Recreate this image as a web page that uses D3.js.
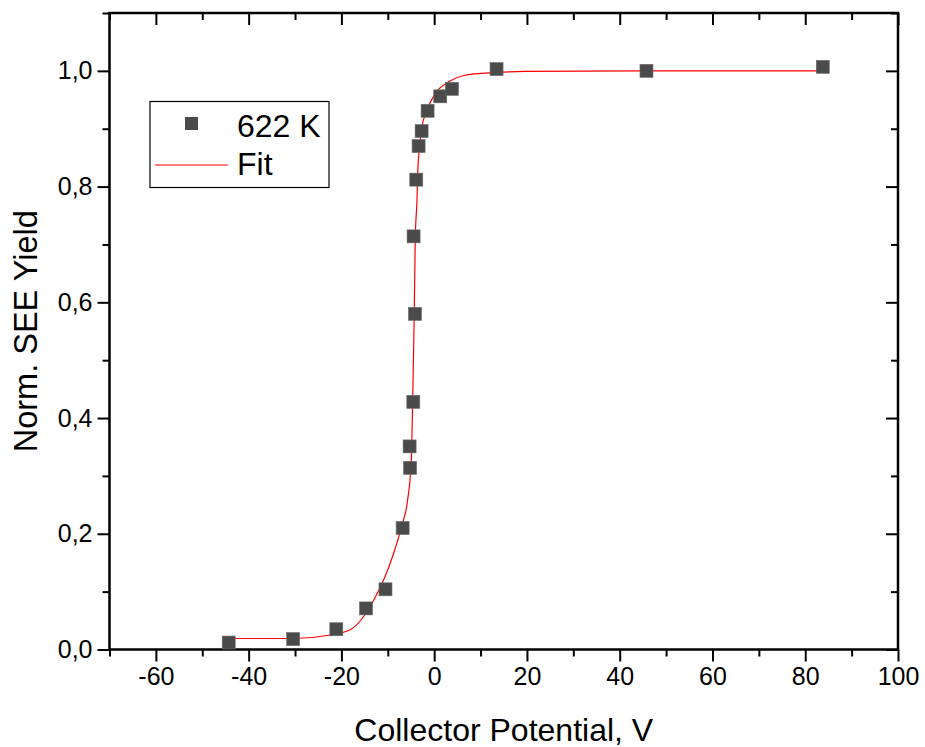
<!DOCTYPE html>
<html>
<head>
<meta charset="utf-8">
<script src="https://cdn.jsdelivr.net/npm/d3@7"></script>
<style>
  body { margin: 0; background: #fff; }
  text { font-family: "Liberation Sans", Arial, sans-serif; fill: #000; }
</style>
</head>
<body>
<div id="chart"></div>
<script>
// measured points (622 K)
const potential = [-44.3, -30.4, -21.1, -14.7, -10.5, -6.8, -5.2, -5.3, -4.5, -4.14,
                   -4.44, -3.86, -3.36, -2.71, -1.42, 1.31, 3.84, 13.45, 45.77, 83.78];
const yieldNorm = [0.012, 0.018, 0.035, 0.071, 0.104, 0.210, 0.314, 0.351, 0.428, 0.580,
                   0.714, 0.812, 0.870, 0.896, 0.931, 0.956, 0.969, 1.003, 1.000, 1.007];

// fit curve
const fitX = [-44.3, -30.4, -22.4, -18.1, -15.2, -13.06, -10.9, -8.75, -6.94, -5.73, -4.93,
              -4.65, -4.29, -4.07, -3.71, -3.53, -3.36, -2.63, -1.55, 0.24, 3.1, 6.4, 13.2, 19.6, 45, 83.78];
const fitY = [0.019, 0.019, 0.025, 0.034, 0.057, 0.085, 0.120, 0.166, 0.215, 0.258, 0.327,
              0.425, 0.581, 0.713, 0.776, 0.828, 0.851, 0.903, 0.932, 0.961, 0.981, 0.992, 0.997, 0.999, 1.0, 1.0];

const xTicks = [-60, -40, -20, 0, 20, 40, 60, 80, 100];
const xMinor = [-70, -50, -30, -10, 10, 30, 50, 70, 90];
const yTicks = [0, 0.2, 0.4, 0.6, 0.8, 1.0];
const yMinor = [0.1, 0.3, 0.5, 0.7, 0.9, 1.1];

const W = 925, H = 747;
const margin = {top: 13, right: 27, bottom: 97.5, left: 109.5};
const width = W - margin.left - margin.right;
const height = H - margin.top - margin.bottom;

const svg = d3.select("#chart").append("svg")
    .attr("width", W)
    .attr("height", H);

const g = svg.append("g")
    .attr("transform", `translate(${margin.left},${margin.top})`);

const x = d3.scaleLinear().domain([-70, 100]).range([0, width]);
const y = d3.scaleLinear().domain([0, 1.1]).range([height, 0]);

// plain hyphen for negatives, comma as decimal mark
const fmtX = d => String(d);
const fmtY = d => d.toFixed(1).replace(".", ",");

function styleAxis(sel) {
    sel.select(".domain").remove();
    sel.selectAll(".tick line").attr("stroke", "#000").attr("stroke-width", 2);
    sel.selectAll("text").style("font-size", "25px");
}

// bottom axis
g.append("g").attr("transform", `translate(0,${height})`)
    .call(d3.axisBottom(x).tickValues(xTicks).tickSize(12).tickPadding(6).tickFormat(fmtX))
    .call(styleAxis);
g.append("g").attr("transform", `translate(0,${height})`)
    .call(d3.axisBottom(x).tickValues(xMinor).tickSize(7).tickFormat(""))
    .call(styleAxis);

// left axis
g.append("g")
    .call(d3.axisLeft(y).tickValues(yTicks).tickSize(12).tickPadding(5).tickFormat(fmtY))
    .call(styleAxis);
g.append("g")
    .call(d3.axisLeft(y).tickValues(yMinor).tickSize(7).tickFormat(""))
    .call(styleAxis);

// top and right: inward ticks
g.append("g")
    .call(d3.axisBottom(x).tickValues(xTicks).tickSize(12).tickFormat(""))
    .call(styleAxis);
g.append("g")
    .call(d3.axisBottom(x).tickValues(xMinor).tickSize(7).tickFormat(""))
    .call(styleAxis);
g.append("g").attr("transform", `translate(${width},0)`)
    .call(d3.axisLeft(y).tickValues(yTicks).tickSize(12).tickFormat(""))
    .call(styleAxis);
g.append("g").attr("transform", `translate(${width},0)`)
    .call(d3.axisLeft(y).tickValues(yMinor).tickSize(7).tickFormat(""))
    .call(styleAxis);

// frame
g.append("rect")
    .attr("width", width)
    .attr("height", height)
    .attr("fill", "none")
    .attr("stroke", "#000")
    .attr("stroke-width", 2.5);

// fit line
const fitData = fitX.map((v, i) => ({x: v, y: fitY[i]}));
g.append("path")
    .datum(fitData)
    .attr("fill", "none")
    .attr("stroke", "#ff0000")
    .attr("stroke-width", 1.2)
    .attr("d", d3.line().x(d => x(d.x)).y(d => y(d.y)).curve(d3.curveMonotoneX));

// points
const pts = potential.map((v, i) => ({x: v, y: yieldNorm[i]}));
const s = 13;
g.selectAll(".pt")
    .data(pts)
    .enter()
    .append("rect")
    .attr("x", d => x(d.x) - s / 2)
    .attr("y", d => y(d.y) - s / 2)
    .attr("width", s)
    .attr("height", s)
    .attr("fill", "#4b4b4b")
    .attr("stroke", "#6a6a6a")
    .attr("stroke-width", 0.6);

// axis titles
svg.append("text")
    .attr("x", margin.left + width / 2)
    .attr("y", 741)
    .attr("text-anchor", "middle")
    .style("font-size", "32px")
    .text("Collector Potential, V");

svg.append("text")
    .attr("transform", `translate(37,${margin.top + height / 2}) rotate(-90)`)
    .attr("text-anchor", "middle")
    .style("font-size", "32.5px")
    .text("Norm. SEE Yield");

// legend
const lg = svg.append("g");
lg.append("rect")
    .attr("x", 150).attr("y", 101.5)
    .attr("width", 179).attr("height", 86)
    .attr("fill", "#fff")
    .attr("stroke", "#000")
    .attr("stroke-width", 1.2);
lg.append("rect")
    .attr("x", 191.5 - 6.5).attr("y", 123.5 - 6.5)
    .attr("width", 13).attr("height", 13)
    .attr("fill", "#4b4b4b");
lg.append("text")
    .attr("x", 237).attr("y", 136.5)
    .style("font-size", "32px")
    .text("622 K");
lg.append("line")
    .attr("x1", 155).attr("x2", 228)
    .attr("y1", 165).attr("y2", 165)
    .attr("stroke", "#ff0000")
    .attr("stroke-width", 1);
lg.append("text")
    .attr("x", 237).attr("y", 175)
    .style("font-size", "32px")
    .text("Fit");
</script>
</body>
</html>
